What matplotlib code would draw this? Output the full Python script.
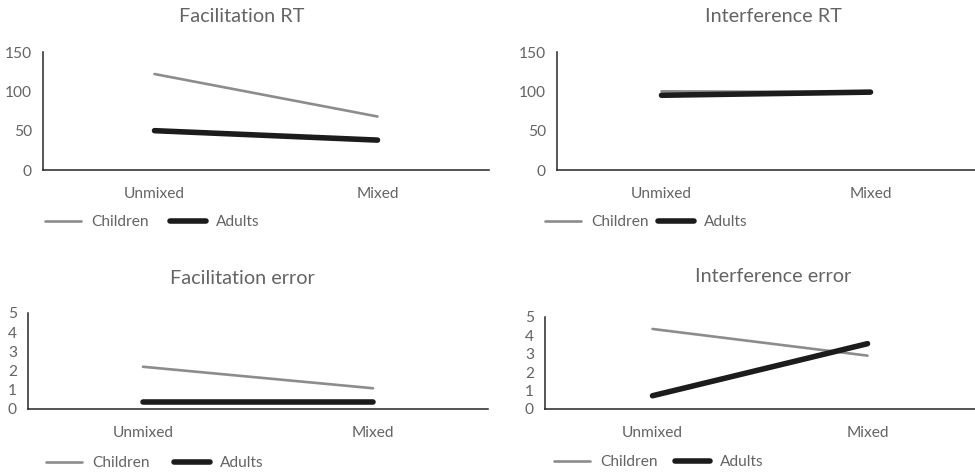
import numpy as np
import matplotlib
matplotlib.use('Agg')
import matplotlib.pyplot as plt

plt.rcParams['font.family'] = ['Lato', 'DejaVu Sans']

conditions = ['Unmixed', 'Mixed']
groups = ['Children', 'Adults']

fac_rt_children = [122, 68]
fac_rt_adults = [50, 38]
int_rt_children = [100, 99]
int_rt_adults = [95, 99]
fac_err_children = [2.2, 1.08]
fac_err_adults = [0.35, 0.35]
int_err_children = [4.35, 2.9]
int_err_adults = [0.72, 3.55]

rt_ticks = [0, 50, 100, 150]
err_ticks = [0, 1, 2, 3, 4, 5]

gray = '#8c8c8c'
black = '#1c1c1c'
txt = '#646464'

W, H = 975, 475
fig = plt.figure(figsize=(W / 100, H / 100), dpi=100)


def px_axes(x0, y0, x1, y1):
    # pixel box (top-left origin) -> figure axes
    return fig.add_axes([x0 / W, 1 - y1 / H, (x1 - x0) / W, (y1 - y0) / H])


panels = [
    # box, title, title pos, children, adults, ticks, ymax, legend pos, colspacing
    ((43, 52, 489, 170), 'Facilitation RT', (242, 17), fac_rt_children, fac_rt_adults, rt_ticks, 150, (45, 222), 1.4),
    ((557, 52, 975, 170), 'Interference RT', (773, 17), int_rt_children, int_rt_adults, rt_ticks, 150, (545, 222), 0.6),
    ((28, 313, 488, 409), 'Facilitation error', (242, 279), fac_err_children, fac_err_adults, err_ticks, 5, (46, 463), 1.6),
    ((545, 317, 975, 409), 'Interference error', (773, 277), int_err_children, int_err_adults, err_ticks, 5, (554, 462), 1.1),
]

for box, title, tpos, ch, ad, ticks, ymax, lpos, cs in panels:
    ax = px_axes(*box)
    x = np.arange(len(conditions))
    ax.plot(x, ch, color=gray, lw=1.9, solid_capstyle='round', label=groups[0])
    ax.plot(x, ad, color=black, lw=4.0, solid_capstyle='round', label=groups[1])
    ax.set_xlim(-0.5, 1.5)
    ax.set_ylim(0, ymax)
    ax.set_xticks(x)
    ax.set_xticklabels(conditions)
    ax.set_yticks(ticks)
    ax.tick_params(axis='both', length=0, labelsize=11.2, colors=txt)
    ax.tick_params(axis='x', pad=12)
    ax.tick_params(axis='y', pad=8)
    for s in ['top', 'right']:
        ax.spines[s].set_visible(False)
    for s in ['left', 'bottom']:
        ax.spines[s].set_color('#262626')
        ax.spines[s].set_linewidth(1.1)
    fig.text(tpos[0] / W, 1 - tpos[1] / H, title,
             ha='center', va='center', fontsize=14.3, color=txt)
    leg = ax.legend(loc='center left', bbox_to_anchor=(lpos[0] / W, 1 - lpos[1] / H),
                    bbox_transform=fig.transFigure, ncol=2, frameon=False,
                    borderpad=0, borderaxespad=0, handlelength=2.3,
                    handletextpad=0.65, columnspacing=cs, fontsize=11.2)
    for t in leg.get_texts():
        t.set_color(txt)

fig.savefig('out.png', dpi=100)
